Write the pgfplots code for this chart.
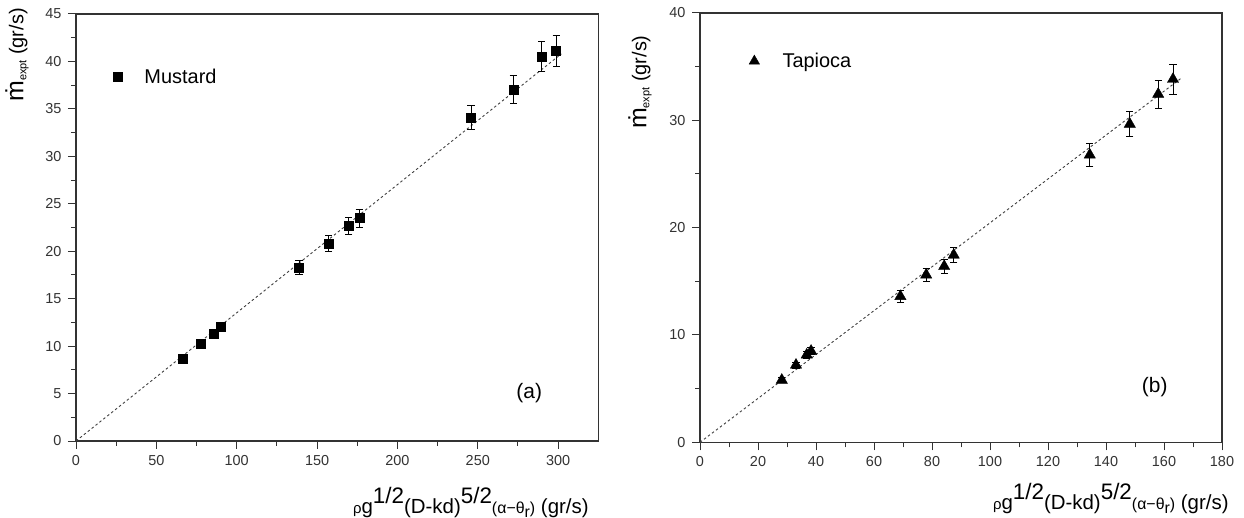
\documentclass[border=0pt]{standalone}
\usepackage{fontspec}
\setmainfont{Liberation Sans}
\usepackage{pgfplots}
\pgfplotsset{compat=1.18}

\definecolor{axgray}{HTML}{333333}

\pgfplotsset{
  panel/.style={
    scale only axis, anchor=south west,
    axis line style={axgray, line width=1.2bp},
    tick style={axgray, line width=1bp},
    tick align=outside, tick pos=left,
    major tick length=8bp, minor tick length=5bp,
    minor tick num=1,
    xmin=0, ymin=0,
    ticklabel style={font=\fontsize{14.5}{16}\selectfont, text=axgray},
    xticklabel style={yshift=-3bp},
    yticklabel style={xshift=-3bp},
    /pgf/number format/assume math mode=true,
    legend style={draw=none, fill=none, font=\fontsize{20}{22}\selectfont,
      anchor=west, inner sep=0pt, legend cell align=left},
    clip=false,
  },
  fitline/.style={black!75, line width=0.9bp, dash pattern=on 2.5bp off 2.5bp, forget plot},
  ebars/.style={error bars/.cd, y dir=both, y explicit,
    error bar style={black, line width=0.8bp},
    error mark options={rotate=90, black, mark size=3.6bp, line width=0.8bp},
    /pgfplots/.cd},
}

\newcommand{\mlabel}{{\fontsize{25}{27}\selectfont ṁ}{\fontsize{11}{12}\selectfont\raisebox{-3bp}{expt}} (gr/s)}
\newcommand{\xlab}{{\fontsize{15}{17}\selectfont ρ}g\raisebox{10bp}{\fontsize{22.5}{24}\selectfont 1/2}(D-kd)\raisebox{10bp}{\fontsize{22.5}{24}\selectfont 5/2}{\fontsize{16}{18}\selectfont (α−θ\raisebox{-4bp}{r})} (gr/s)}

\begin{document}
\begin{tikzpicture}
\path[use as bounding box] (0bp,0bp) rectangle (1244bp,518bp);

% (a) Mustard
\begin{axis}[panel,
  at={(76bp,77bp)}, width=522.3bp, height=427bp,
  xmax=325, ymax=45,
  xtick={0,50,...,300}, ytick={0,5,...,45},
  ylabel={\mlabel},
  ylabel style={at={(rel axis cs:-0.113,0.904)}, anchor=center, font=\fontsize{20}{22}\selectfont},
  xlabel={\xlab},
  xlabel style={at={(rel axis cs:0.756,0)}, anchor=center, yshift=-61bp, font=\fontsize{20.5}{22}\selectfont},
  legend style={at={(rel axis cs:0.063,0.852)}},
]
\addplot[fitline] coordinates {(0,0) (302,40.8)};
\addplot[only marks, black, mark=square*, mark size=4.5bp,
  legend image code/.code={\path (0bp,0bp) (33bp,0bp);
    \draw[black, mark=square*, mark size=4.5bp] plot coordinates {(8bp,0bp)};},
  ebars]
  coordinates {
  (66.2,8.67) +- (0,0.35)
  (77.6,10.25) +- (0,0.41)
  (85.9,11.27) +- (0,0.45)
  (90.0,12.0) +- (0,0.48)
  (138.8,18.3) +- (0,0.73)
  (157.2,20.8) +- (0,0.83)
  (169.7,22.7) +- (0,0.91)
  (176.3,23.5) +- (0,0.94)
  (245.8,34.1) +- (0,1.30)
  (272.1,37.06) +- (0,1.45)
  (289.9,40.5) +- (0,1.58)
  (298.8,41.1) +- (0,1.65)
};
\addlegendentry{Mustard}
\node[font=\fontsize{21}{23}\selectfont] at (axis cs:282,5.1) {(a)};
\end{axis}

% (b) Tapioca
\begin{axis}[panel,
  at={(700bp,75.7bp)}, width=522bp, height=429.3bp,
  xmax=180, ymax=40,
  xtick={0,20,...,180}, ytick={0,10,...,40},
  ylabel={\mlabel},
  ylabel style={at={(rel axis cs:-0.115,0.839)}, anchor=center, font=\fontsize{20}{22}\selectfont},
  xlabel={\xlab},
  xlabel style={at={(rel axis cs:0.787,0)}, anchor=center, yshift=-56bp, font=\fontsize{20.5}{22}\selectfont},
  legend style={at={(rel axis cs:0.088,0.888)}},
]
\addplot[fitline] coordinates {(0,0) (166.3,34.0)};
\addplot[only marks, black, mark=triangle*, mark size=6.5bp,
  legend image code/.code={\path (0bp,0bp) (34bp,0bp);
    \draw[black, mark=triangle*, mark size=6bp] plot coordinates {(8bp,0bp)};},
  ebars]
  coordinates {
  (28.2,5.8) +- (0,0.23)
  (33.1,7.2) +- (0,0.29)
  (36.8,8.15) +- (0,0.33)
  (38.3,8.5) +- (0,0.34)
  (69.1,13.6) +- (0,0.55)
  (78.0,15.6) +- (0,0.63)
  (84.2,16.4) +- (0,0.66)
  (87.5,17.45) +- (0,0.70)
  (134.4,26.78) +- (0,1.03)
  (148.2,29.65) +- (0,1.16)
  (158.0,32.44) +- (0,1.32)
  (163.1,33.83) +- (0,1.40)
};
\addlegendentry{Tapioca}
\node[font=\fontsize{21}{23}\selectfont] at (axis cs:156.8,5.1) {(b)};
\end{axis}
\end{tikzpicture}
\end{document}
